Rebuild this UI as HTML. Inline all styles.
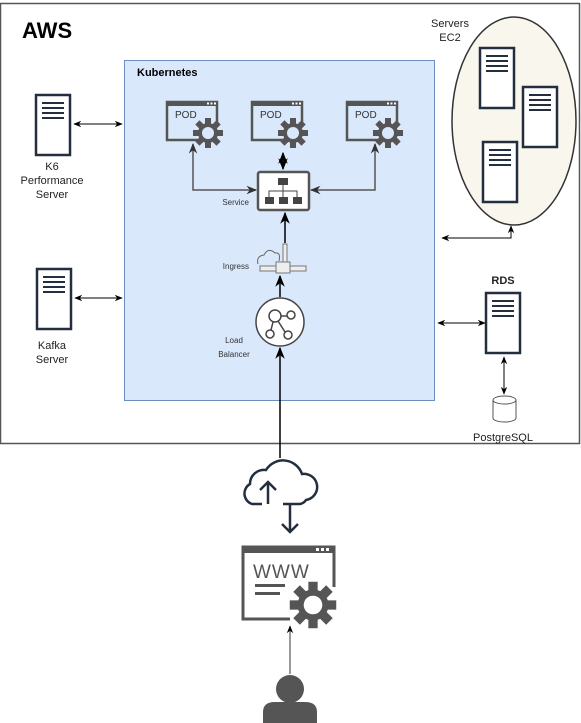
<!DOCTYPE html>
<html><head><meta charset="utf-8"><style>
html,body{margin:0;padding:0;background:#fff;}
svg{display:block;font-family:"Liberation Sans",sans-serif;}
</style></head><body>
<svg width="581" height="723" viewBox="0 0 581 723" xmlns="http://www.w3.org/2000/svg">
<defs>
<marker id="a" viewBox="0 0 10 10" refX="9" refY="5" markerWidth="8" markerHeight="8" orient="auto-start-reverse"><path d="M0,1 L10,5 L0,9 L3,5 Z" fill="#000"/></marker>
<marker id="g" viewBox="0 0 10 10" refX="9" refY="5" markerWidth="7" markerHeight="7" orient="auto-start-reverse"><path d="M0,1 L10,5 L0,9 L3,5 Z" fill="#333"/></marker>
<g id="srv"><rect x="0" y="0" width="34" height="60" fill="#fff" stroke="#232f3e" stroke-width="2.5"/><g stroke="#232f3e" stroke-width="2"><line x1="6" y1="8" x2="28" y2="8"/><line x1="6" y1="13" x2="28" y2="13"/><line x1="6" y1="18" x2="28" y2="18"/><line x1="6" y1="23" x2="28" y2="23"/></g></g>
<g id="gear"><g fill="#555"><circle r="10"/><g id="t"><rect x="-3" y="-15" width="6" height="30"/></g><use href="#t" transform="rotate(45)"/><use href="#t" transform="rotate(90)"/><use href="#t" transform="rotate(135)"/></g><circle r="6" fill="#dae8fc"/></g>
<g id="pod"><path d="M38,40 H2 V2 H52 V25" fill="none" stroke="#555" stroke-width="2.5"/><rect x="1" y="1" width="52" height="5" fill="#555"/><g fill="#fff"><rect x="42" y="2.5" width="2" height="2"/><rect x="45.5" y="2.5" width="2" height="2"/><rect x="49" y="2.5" width="2" height="2"/></g><text x="10" y="18" font-size="10" fill="#333">POD</text><use href="#gear" transform="translate(43,33)"/></g>
</defs>
<rect x="0.5" y="3.5" width="579" height="440" fill="#fff" stroke="#555" stroke-width="1.5"/>
<text x="22" y="38" font-size="22" font-weight="bold">AWS</text>
<rect x="124.5" y="60.5" width="310" height="340" fill="#dae8fc" stroke="#6c8ebf"/>
<text x="137" y="76" font-size="11" font-weight="bold">Kubernetes</text>
<use href="#pod" transform="translate(165,100)"/>
<use href="#pod" transform="translate(250,100)"/>
<use href="#pod" transform="translate(345,100)"/>
<rect x="258" y="172" width="51" height="38" rx="2" fill="#fff" stroke="#555" stroke-width="2.5"/>
<g fill="#444"><rect x="278" y="178" width="10" height="7"/><rect x="265" y="197" width="9" height="7"/><rect x="279" y="197" width="9" height="7"/><rect x="293" y="197" width="9" height="7"/></g>
<path d="M283,185 V197 M269,197 V191 H297 V197" stroke="#444" fill="none"/>
<text x="249" y="205" font-size="8" text-anchor="end" fill="#333">Service</text>
<path d="M193,170 V190 H256" fill="none" stroke="#555" stroke-width="1.5" marker-end="url(#g)"/>
<path d="M193,170 V144" fill="none" stroke="#555" stroke-width="1.5" marker-end="url(#g)"/>
<path d="M375,170 V190 H311" fill="none" stroke="#555" stroke-width="1.5" marker-end="url(#g)"/>
<path d="M375,170 V144" fill="none" stroke="#555" stroke-width="1.5" marker-end="url(#g)"/>
<path d="M283,153 V169" stroke="#000" stroke-width="1.5" marker-start="url(#a)" marker-end="url(#a)"/>
<path d="M258,264 q-2,-8 6,-9 q4,-8 11,-2 q6,-1 4,8" fill="none" stroke="#666"/>
<rect x="283" y="244" width="4" height="20" fill="#eee" stroke="#777"/>
<rect x="260" y="266" width="46" height="5" fill="#eee" stroke="#777"/>
<rect x="276" y="262" width="14" height="11" fill="#eee" stroke="#777"/>
<text x="249" y="269" font-size="8" text-anchor="end" fill="#333">Ingress</text>
<path d="M285,243 V213" stroke="#000" stroke-width="1.5" marker-end="url(#a)"/>
<path d="M280,297 V276" stroke="#000" stroke-width="1.5" marker-end="url(#a)"/>
<circle cx="280" cy="322" r="24" fill="#fff" stroke="#444" stroke-width="1.5"/>
<g fill="none" stroke="#444" stroke-width="1.5"><circle cx="275" cy="316" r="6"/><circle cx="291" cy="315" r="4"/><circle cx="270" cy="334" r="4"/><circle cx="288" cy="335" r="4"/><path d="M281,316 H287 M273,322 L271,330 M278,321 L285,332"/></g>
<text x="234" y="343" font-size="8" text-anchor="middle" fill="#333">Load</text>
<text x="234" y="357" font-size="8" text-anchor="middle" fill="#333">Balancer</text>
<path d="M280,458 V348" stroke="#000" stroke-width="1.5" marker-end="url(#a)"/>
<use href="#srv" transform="translate(36,95)"/>
<text x="52" y="170" font-size="11" text-anchor="middle" fill="#222">K6</text>
<text x="52" y="184" font-size="11" text-anchor="middle" fill="#222">Performance</text>
<text x="52" y="198" font-size="11" text-anchor="middle" fill="#222">Server</text>
<path d="M74,124 H122" stroke="#000" marker-start="url(#a)" marker-end="url(#a)"/>
<use href="#srv" transform="translate(37,269)"/>
<text x="52" y="349" font-size="11" text-anchor="middle" fill="#222">Kafka</text>
<text x="52" y="363" font-size="11" text-anchor="middle" fill="#222">Server</text>
<path d="M75,298 H122" stroke="#000" marker-start="url(#a)" marker-end="url(#a)"/>
<ellipse cx="514" cy="121" rx="62" ry="104" fill="#f9f7ed" stroke="#333" stroke-width="1.5"/>
<text x="450" y="27" font-size="11" text-anchor="middle" fill="#222">Servers</text>
<text x="450" y="41" font-size="11" text-anchor="middle" fill="#222">EC2</text>
<use href="#srv" transform="translate(480,48)"/>
<use href="#srv" transform="translate(523,87)"/>
<use href="#srv" transform="translate(483,142)"/>
<path d="M511,226 V238 H442" fill="none" stroke="#000" marker-start="url(#a)" marker-end="url(#a)"/>
<text x="503" y="284" font-size="11" font-weight="bold" text-anchor="middle" fill="#222">RDS</text>
<use href="#srv" transform="translate(486,293)"/>
<path d="M438,323 H485" stroke="#000" marker-start="url(#a)" marker-end="url(#a)"/>
<path d="M504,357 V394" stroke="#000" marker-start="url(#a)" marker-end="url(#a)"/>
<path d="M493,400 V418 A11.5,4 0 0 0 516,418 V400" fill="#fff" stroke="#555"/>
<ellipse cx="504.5" cy="400" rx="11.5" ry="4" fill="#fff" stroke="#555"/>
<text x="503" y="441" font-size="11" text-anchor="middle" fill="#222">PostgreSQL</text>
<path d="M262,504 H252 A11,11 0 0 1 250,484 A14,14 0 0 1 266,470 A20,20 0 0 1 302,474 A13,13 0 0 1 306,500 A9,9 0 0 1 300,504 H296 M283,504 H296" fill="none" stroke="#232f3e" stroke-width="2.5"/>
<path d="M268,504 V482 M260,490 L268,482 L276,490" fill="none" stroke="#232f3e" stroke-width="2.5"/>
<path d="M290,504 V532 M282,524 L290,532 L298,524" fill="none" stroke="#232f3e" stroke-width="2.5"/>
<path d="M290,619 H243 V547 H334 V587" fill="none" stroke="#555" stroke-width="3"/>
<rect x="242" y="546" width="93" height="7" fill="#555"/>
<g fill="#fff"><rect x="316" y="548" width="3" height="3"/><rect x="321" y="548" width="3" height="3"/><rect x="326" y="548" width="3" height="3"/></g>
<text x="253" y="578" font-size="19" fill="#555" letter-spacing="1">WWW</text>
<rect x="255" y="584" width="30" height="3" fill="#555"/><rect x="255" y="592" width="25" height="3" fill="#555"/>
<g transform="translate(313,605) scale(1.55)"><g fill="#555"><circle r="10"/><rect x="-3" y="-15" width="6" height="30"/><rect x="-3" y="-15" width="6" height="30" transform="rotate(45)"/><rect x="-3" y="-15" width="6" height="30" transform="rotate(90)"/><rect x="-3" y="-15" width="6" height="30" transform="rotate(135)"/></g><circle r="6" fill="#fff"/></g>
<path d="M290,674 V626" stroke="#333" stroke-width="1" marker-end="url(#a)"/>
<circle cx="290" cy="689" r="14" fill="#555"/>
<path d="M263,723 V712 Q263,702 275,702 H305 Q317,702 317,712 V723 Z" fill="#555"/>
</svg>
</body></html>
